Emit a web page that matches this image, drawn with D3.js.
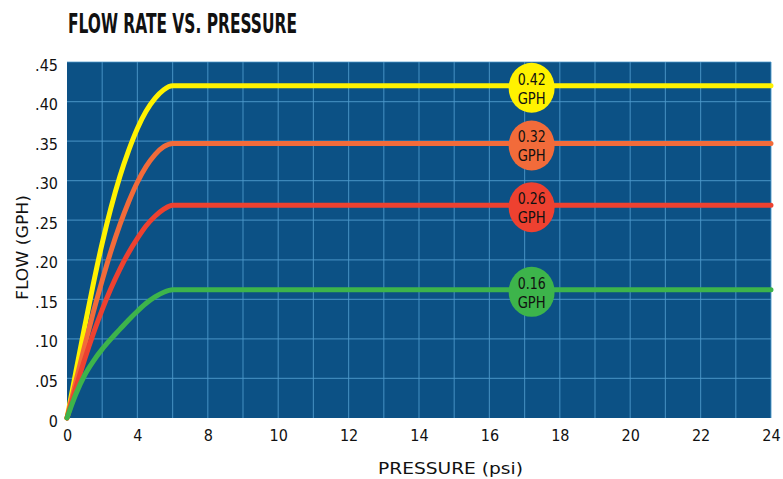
<!DOCTYPE html>
<html>
<head>
<meta charset="utf-8">
<script src="https://cdn.jsdelivr.net/npm/d3@7"></script>
<style>
  body { margin: 0; background: #fff; }
  text { font-family: 'DejaVu Sans Condensed', 'Liberation Sans Narrow', sans-serif; }
</style>
</head>
<body>
<div id="chart"></div>
<script>
// tick labels as printed on the original (note the jump 4 -> 8 -> 10)
var xTicks = [0, 4, 8, 10, 12, 14, 16, 18, 20, 22, 24]
var yTicks = [0, 0.05, 0.1, 0.15, 0.2, 0.25, 0.3, 0.35, 0.4, 0.45]

// pressure (psi) where the curves were read
var pressure = [0, 0.5, 1, 1.5, 2, 2.5, 3, 3.5, 4, 4.5, 5, 5.5, 6, 24]

var flow042 = [0, 0.058, 0.115, 0.17, 0.221, 0.266, 0.305, 0.338, 0.366, 0.388, 0.404, 0.415, 0.42, 0.42]
var flow032 = [0, 0.046, 0.091, 0.134, 0.174, 0.211, 0.244, 0.273, 0.298, 0.318, 0.333, 0.343, 0.347, 0.347]
var flow026 = [0, 0.038, 0.074, 0.107, 0.137, 0.164, 0.188, 0.209, 0.227, 0.243, 0.255, 0.264, 0.269, 0.269]
var flow016 = [0, 0.03, 0.054, 0.072, 0.087, 0.1, 0.112, 0.124, 0.135, 0.145, 0.153, 0.159, 0.162, 0.162]

var seriesNames = ['0.42', '0.32', '0.26', '0.16']
var seriesValues = [flow042, flow032, flow026, flow016]
var seriesColors = ['#fff200', '#f26b3a', '#ee4130', '#3db44b']
var labelPressure = 17.2

var margin = { top: 62, left: 67, right: 12, bottom: 61 }
var width = 783 - margin.left - margin.right
var height = 479 - margin.top - margin.bottom

var svg = d3
  .select('#chart')
  .append('svg')
  .attr('width', 783)
  .attr('height', 479)

// title
svg
  .append('text')
  .attr('x', 68)
  .attr('y', 33)
  .attr('font-size', 27)
  .attr('font-weight', 'bold')
  .attr('fill', '#111')
  .attr('textLength', 229)
  .attr('lengthAdjust', 'spacingAndGlyphs')
  .text('FLOW RATE VS. PRESSURE')

var g = svg
  .append('g')
  .attr('transform', `translate(${margin.left},${margin.top})`)

// piecewise scale so the printed labels sit evenly spaced
var xPositionScale = d3
  .scaleLinear()
  .domain(xTicks)
  .range(xTicks.map((d, i) => (i * width) / (xTicks.length - 1)))

var yPositionScale = d3.scaleLinear().domain([0, 0.45]).range([height, 0])

g.append('rect')
  .attr('width', width)
  .attr('height', height)
  .attr('fill', '#0c5185')

// vertical grid: every label plus the midpoints between them
var xGrid = xTicks.slice(1).concat(d3.pairs(xTicks).map(p => (p[0] + p[1]) / 2))

g.selectAll('.xgrid')
  .data(xGrid)
  .enter()
  .append('line')
  .attr('class', 'xgrid')
  .attr('x1', d => xPositionScale(d))
  .attr('x2', d => xPositionScale(d))
  .attr('y1', 0)
  .attr('y2', height)
  .attr('stroke', '#4d9acb')
  .attr('stroke-opacity', 0.75)
  .attr('stroke-width', 1.2)

g.selectAll('.ygrid')
  .data(yTicks.slice(1))
  .enter()
  .append('line')
  .attr('class', 'ygrid')
  .attr('x1', 0)
  .attr('x2', width)
  .attr('y1', d => yPositionScale(d))
  .attr('y2', d => yPositionScale(d))
  .attr('stroke', '#4d9acb')
  .attr('stroke-opacity', 0.75)
  .attr('stroke-width', 1.2)

var line = d3
  .line()
  .x((d, i) => xPositionScale(pressure[i]))
  .y(d => yPositionScale(d))
  .curve(d3.curveMonotoneX)

g.selectAll('.flow-line')
  .data(seriesValues)
  .enter()
  .append('path')
  .attr('class', 'flow-line')
  .attr('d', d => line(d))
  .attr('fill', 'none')
  .attr('stroke', (d, i) => seriesColors[i])
  .attr('stroke-width', 5)
  .attr('stroke-linecap', 'round')

// badges
var badges = g
  .selectAll('.badge')
  .data(seriesValues)
  .enter()
  .append('g')
  .attr('class', 'badge')
  .attr(
    'transform',
    d => `translate(${xPositionScale(labelPressure)},${yPositionScale(d3.max(d)) + 2})`
  )

badges
  .append('ellipse')
  .attr('rx', 23)
  .attr('ry', 25)
  .attr('fill', (d, i) => seriesColors[i])

badges
  .append('text')
  .attr('x', -14)
  .attr('y', -3)
  .attr('font-size', 15)
  .attr('fill', '#111')
  .attr('textLength', 28)
  .attr('lengthAdjust', 'spacingAndGlyphs')
  .text((d, i) => seriesNames[i])

badges
  .append('text')
  .attr('x', -14)
  .attr('y', 16)
  .attr('font-size', 15)
  .attr('fill', '#111')
  .attr('textLength', 28)
  .attr('lengthAdjust', 'spacingAndGlyphs')
  .text('GPH')

// axes
var xAxis = d3.axisBottom(xPositionScale).tickValues(xTicks).tickSize(0).tickPadding(12)

g.append('g')
  .attr('class', 'axis x-axis')
  .attr('transform', `translate(0,${height})`)
  .call(xAxis)

var yAxis = d3
  .axisLeft(yPositionScale)
  .tickValues(yTicks)
  .tickSize(0)
  .tickPadding(9)
  .tickFormat(d => (d === 0 ? '0' : d3.format('.2f')(d).slice(1)))

g.append('g')
  .attr('class', 'axis y-axis')
  .call(yAxis)

g.selectAll('.axis .domain').remove()
g.selectAll('.axis text')
  .attr('font-size', 16)
  .attr('font-family', "'DejaVu Sans Condensed', sans-serif")
  .attr('fill', '#111')

g.selectAll('.y-axis text').attr('dy', '0.5em')

// axis titles
svg
  .append('text')
  .attr('x', 378)
  .attr('y', 474)
  .attr('font-size', 16)
  .attr('fill', '#111')
  .attr('textLength', 145)
  .attr('lengthAdjust', 'spacingAndGlyphs')
  .text('PRESSURE (psi)')

svg
  .append('text')
  .attr('transform', 'translate(28,300) rotate(-90)')
  .attr('font-size', 16)
  .attr('fill', '#111')
  .attr('textLength', 105)
  .attr('lengthAdjust', 'spacingAndGlyphs')
  .text('FLOW (GPH)')
</script>
</body>
</html>
